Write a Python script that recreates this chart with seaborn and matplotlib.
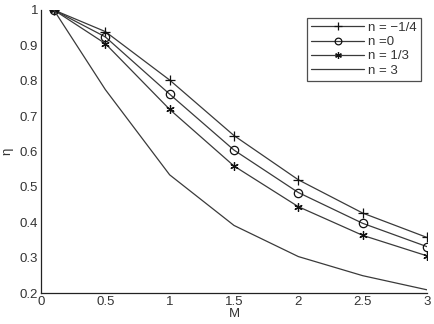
import matplotlib
matplotlib.use("Agg")
import matplotlib.pyplot as plt
import seaborn as sns
import pandas as pd

M = [0.1, 0.5, 1.0, 1.5, 2.0, 2.5, 3.0]
eta_m14 = [1.0, 0.939, 0.802, 0.645, 0.520, 0.426, 0.357]
eta_0 = [1.0, 0.924, 0.762, 0.604, 0.484, 0.397, 0.331]
eta_13 = [1.0, 0.905, 0.719, 0.559, 0.444, 0.363, 0.305]
eta_3 = [1.0, 0.775, 0.534, 0.391, 0.303, 0.249, 0.209]
labels = ["n = \u22121/4", "n =0", "n = 1/3", "n = 3"]

sns.set_style("white")
plt.rcParams['font.family'] = ['Liberation Sans', 'DejaVu Sans']

fig = plt.figure(figsize=(4.35, 3.24), dpi=100)
ax = fig.add_axes([41/435, 1-293/324, 386/435, 283/324])

series = [eta_m14, eta_0, eta_13, eta_3]
markers = ['+', 'o', (6, 2, 0), None]
msizes = [7, 6, 6, 0]
color = '#3a3a3a'
for vals, lab, mk, ms in zip(series, labels, markers, msizes):
    df = pd.DataFrame({"M": M, "eta": vals})
    sns.lineplot(data=df, x="M", y="eta", ax=ax, color=color, lw=0.9,
                 marker=mk if mk is not None else '', markersize=ms,
                 markerfacecolor='none', markeredgecolor='#111111',
                 markeredgewidth=0.9, label=lab)

ax.set_xlim(0, 3)
ax.set_ylim(0.2, 1.0)
ax.set_xticks([0, 0.5, 1, 1.5, 2, 2.5, 3])
ax.set_xticklabels(["0", "0.5", "1", "1.5", "2", "2.5", "3"])
ax.set_yticks([0.2, 0.3, 0.4, 0.5, 0.6, 0.7, 0.8, 0.9, 1.0])
ax.set_yticklabels(["0.2", "0.3", "0.4", "0.5", "0.6", "0.7", "0.8", "0.9", "1"])
ax.tick_params(direction='in', length=3, width=0.8, colors='#222222',
               labelsize=9.5, pad=2, labelcolor='#333333')
for s in ['top', 'right']:
    ax.spines[s].set_visible(False)
for s in ['left', 'bottom']:
    ax.spines[s].set_color('#222222')
    ax.spines[s].set_linewidth(0.9)
ax.set_xlabel("M", fontsize=9.5, labelpad=0, color='#333333')
ax.set_ylabel("\u03b7", fontsize=9.5, labelpad=5, color='#333333')

leg = ax.legend(loc='upper right', bbox_to_anchor=(0.99, 0.982), fontsize=9.5,
                frameon=True, fancybox=False, handlelength=4.0, markerscale=0.8,
                borderpad=0.3, labelspacing=0.15, handletextpad=0.3,
                borderaxespad=0.2)
for t in leg.get_texts():
    t.set_color('#333333')
leg.get_frame().set_edgecolor('#222222')
leg.get_frame().set_linewidth(0.9)

fig.savefig("out.png", dpi=100)
